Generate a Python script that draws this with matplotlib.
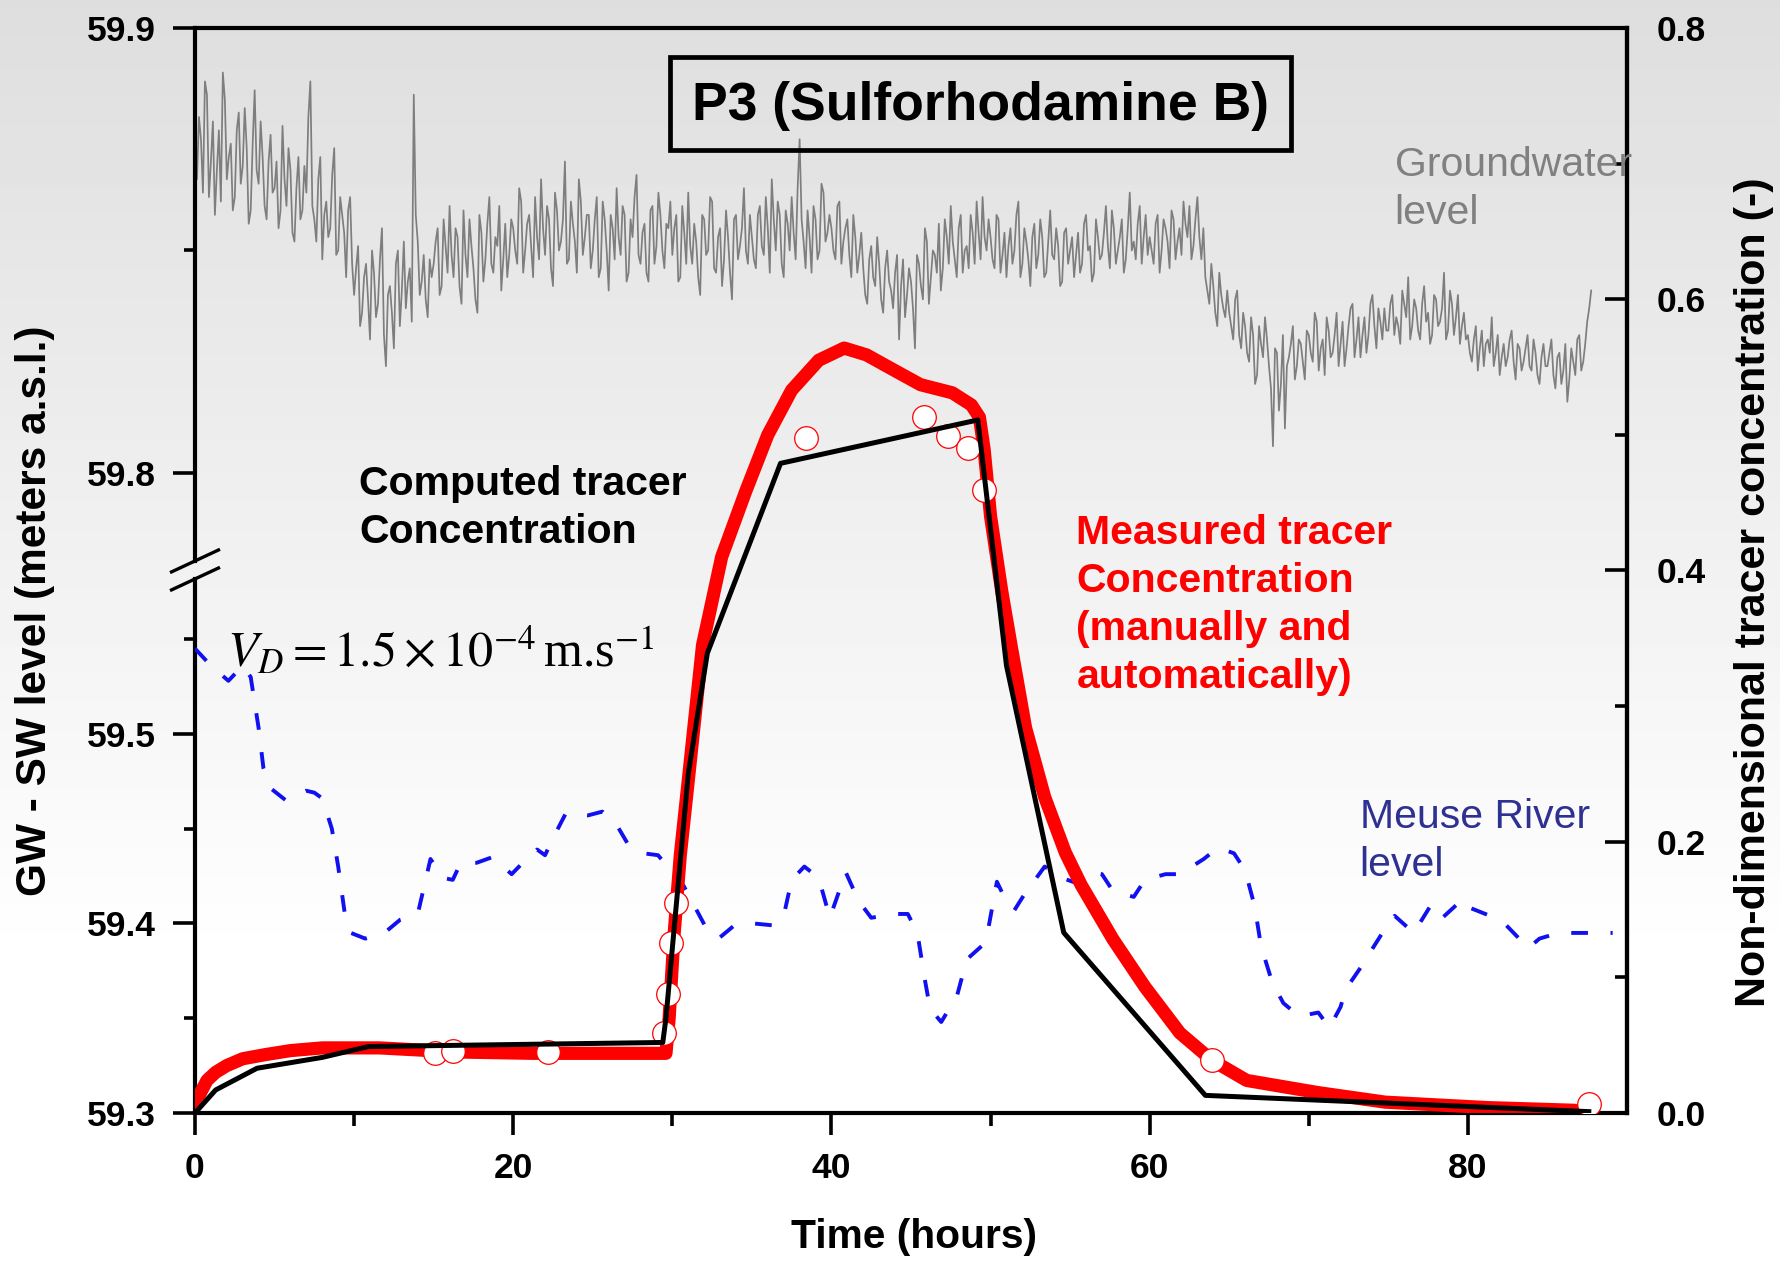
import matplotlib
matplotlib.use("Agg")
import matplotlib.pyplot as plt
import numpy as np
from matplotlib.lines import Line2D
from matplotlib.patches import Rectangle
from matplotlib.ticker import FixedLocator, FuncFormatter

plt.rcParams["font.family"] = ["Liberation Sans", "DejaVu Sans"]
plt.rcParams["mathtext.fontset"] = "stix"

# ---- data (time in hours) ----
# measured tracer concentration (automatic probe), non-dimensional
meas_t = [0.0, 0.75, 1.3, 2.0, 3.0, 4.4, 6.0, 8.0, 11.6, 16.4, 21.2, 29.6,
          29.8, 30.1, 30.5, 31.0, 31.9, 33.1, 34.6, 36.0, 37.5, 39.2, 40.8,
          42.2, 44.2, 45.6, 47.6, 48.8, 49.3, 49.6, 50.0, 50.7, 51.3, 52.2,
          53.4, 54.7, 55.7, 57.7, 59.7, 61.9, 63.9, 66.1, 70.6, 74.8, 81.2,
          86.7]
meas_c = [0.007, 0.024, 0.030, 0.035, 0.040, 0.043, 0.046, 0.048, 0.048, 0.045,
          0.044, 0.044, 0.070, 0.130, 0.190, 0.245, 0.345, 0.410, 0.458, 0.500,
          0.533, 0.555, 0.564, 0.559, 0.546, 0.537, 0.531, 0.522, 0.513, 0.489,
          0.440, 0.385, 0.344, 0.284, 0.233, 0.192, 0.168, 0.128, 0.093, 0.059,
          0.039, 0.024, 0.015, 0.008, 0.004, 0.002]

# manual samples (open circles)
manual_t = [15.1, 16.2, 22.2, 29.5, 29.7, 29.9, 30.2, 38.4, 45.8, 47.3, 48.6,
            49.6, 63.9, 87.6]
manual_c = [0.044, 0.046, 0.045, 0.059, 0.088, 0.125, 0.155, 0.498, 0.513,
            0.499, 0.490, 0.459, 0.039, 0.007]

# computed tracer concentration
comp_t = [0.0, 1.3, 3.9, 8.0, 10.9, 29.4, 29.6, 31.0, 32.2, 36.8, 49.2, 51.0,
          54.6, 63.5, 87.6]
comp_c = [0.0, 0.017, 0.033, 0.041, 0.049, 0.052, 0.070, 0.250, 0.339, 0.479,
          0.511, 0.330, 0.133, 0.013, 0.001]

# Meuse river level (m a.s.l.)
river_t = [0.0, 1.0, 2.1, 3.0, 3.5, 4.0, 4.3, 4.8, 5.7, 7.0, 7.5, 8.0, 8.6,
           9.0, 9.4, 9.8, 10.7, 11.9, 12.9, 14.0, 14.8, 15.6, 16.2, 16.7, 17.7,
           18.7, 19.9, 20.6, 21.5, 22.0, 22.5, 23.3, 24.7, 25.6, 26.5, 27.2,
           28.2, 29.1, 30.7, 31.4, 32.1, 32.9, 33.9, 35.1, 36.3, 37.0, 37.5,
           38.3, 39.2, 39.9, 40.9, 41.7, 42.5, 44.0, 44.8, 45.4, 45.9, 46.2,
           46.9, 47.9, 48.5, 49.7, 50.4, 50.8, 51.5, 52.1, 53.4, 54.5, 55.5,
           56.3, 57.0, 57.7, 59.0, 59.7, 61.0, 61.9, 63.4, 64.3, 65.3, 66.0,
           66.6, 67.0, 67.7, 68.4, 69.4, 70.6, 71.3, 72.0, 72.3, 73.2, 73.8,
           75.0, 75.4, 76.6, 77.7, 78.4, 79.7, 80.2, 81.4, 82.3, 83.8, 84.5,
           85.7, 89.1]
river_lvl = [59.545, 59.536, 59.528, 59.536, 59.530, 59.503, 59.482, 59.471,
             59.465, 59.470, 59.469, 59.466, 59.450, 59.430, 59.406, 59.395,
             59.392, 59.395, 59.402, 59.405, 59.434, 59.424, 59.423, 59.432,
             59.432, 59.435, 59.426, 59.432, 59.439, 59.436, 59.445, 59.458,
             59.457, 59.459, 59.452, 59.442, 59.437, 59.436, 59.420, 59.409,
             59.398, 59.392, 59.399, 59.400, 59.399, 59.404, 59.423, 59.430,
             59.424, 59.403, 59.427, 59.412, 59.403, 59.405, 59.405, 59.395,
             59.369, 59.355, 59.348, 59.362, 59.381, 59.390, 59.422, 59.415,
             59.407, 59.415, 59.430, 59.424, 59.421, 59.427, 59.426, 59.417,
             59.414, 59.423, 59.426, 59.426, 59.434, 59.440, 59.437, 59.428,
             59.409, 59.388, 59.369, 59.358, 59.351, 59.353, 59.345, 59.356,
             59.365, 59.376, 59.384, 59.400, 59.404, 59.395, 59.410, 59.403,
             59.413, 59.408, 59.404, 59.400, 59.387, 59.392, 59.395, 59.395]

# groundwater level in mm above 59.80 m, logged every 0.125 h:
# gw_mm_a = readings at 0, 0.25, 0.5 ... h ; gw_mm_b = readings at 0.125, 0.375 ... h
gw_mm_a = [
    72, 80, 63, 85, 70, 58, 77, 90, 66, 74, 62, 81, 69, 73, 59, 86, 65, 71, 57, 76,
    64, 55, 78, 60, 68, 52, 71, 59, 63, 88, 57, 66, 48, 61, 55, 73, 50, 58, 44, 62,
    40, 51, 36, 47, 30, 45, 38, 55, 24, 42, 28, 50, 41, 37, 46, 85, 52, 43, 39, 48,
    47, 55, 42, 51, 60, 44, 53, 38, 49, 57, 46, 36, 54, 48, 62, 45, 51, 41, 56, 49,
    55, 47, 61, 50, 58, 44, 53, 66, 49, 57, 42, 59, 52, 70, 48, 56, 45, 61, 53, 58,
    50, 62, 46, 57, 41, 55, 64, 49, 58, 45, 53, 67, 47, 56, 43, 60, 51, 58, 46, 55,
    49, 58, 44, 54, 63, 47, 52, 40, 57, 50, 61, 45, 55, 48, 53, 39, 58, 51, 64, 47,
    53, 46, 60, 49, 55, 66, 50, 58, 44, 56, 62, 48, 75, 52, 59, 45, 57, 50, 63, 54,
    55, 48, 61, 52, 57, 44, 53, 49, 46, 38, 51, 42, 47, 36, 50, 41, 45, 30, 48, 40,
    43, 28, 47, 39, 52, 44, 49, 56, 46, 53, 60, 48, 55, 45, 51, 58, 47, 54, 62, 50,
    53, 46, 57, 49, 44, 55, 50, 61, 47, 52, 42, 56, 49, 53, 45, 59, 48, 51, 43, 55,
    50, 44, 54, 47, 58, 51, 45, 53, 49, 60, 46, 55, 50, 57, 48, 63, 52, 56, 47, 58,
    53, 47, 58, 50, 55, 46, 57, 52, 49, 56, 60, 51, 62, 48, 44, 38, 42, 33, 40, 35,
    36, 30, 41, 28, 33, 25, 31, 22, 29, 35, 24, 6, 27, 20, 10, 26, 33, 24, 29, 21,
    31, 25, 34, 28, 22, 32, 27, 36, 29, 24, 33, 38, 30, 26, 35, 31, 40, 28, 34, 37,
    32, 40, 35, 29, 38, 44, 33, 37, 30, 42, 36, 31, 39, 34, 45, 32, 38, 35, 29, 36,
    31, 25, 33, 28, 24, 30, 35, 27, 22, 29, 26, 32, 21, 28, 25, 31, 23, 27, 20, 29,
    24, 30, 19, 27, 23, 16, 28, 22, 31, 25, 34, 41,
]
gw_mm_b = [
    66, 75, 88, 62, 79, 68, 61, 84, 71, 59, 77, 65, 82, 56, 74, 68, 79, 60, 70, 63,
    70, 59, 66, 73, 54, 64, 57, 69, 80, 60, 52, 71, 58, 53, 67, 49, 62, 54, 59, 47,
    46, 33, 44, 39, 50, 35, 48, 31, 40, 36, 47, 33, 52, 43, 34, 58, 40, 49, 35, 44,
    52, 40, 57, 45, 49, 55, 42, 59, 44, 51, 39, 58, 43, 56, 47, 53, 60, 48, 44, 57,
    50, 64, 45, 56, 51, 62, 48, 55, 60, 46, 63, 50, 57, 47, 61, 52, 66, 49, 58, 46,
    57, 44, 61, 50, 58, 48, 53, 60, 43, 57, 62, 49, 54, 45, 59, 47, 63, 50, 56, 61,
    55, 43, 60, 47, 51, 56, 44, 58, 49, 62, 46, 53, 42, 59, 45, 57, 48, 55, 50, 58,
    48, 58, 51, 62, 45, 57, 61, 47, 59, 50, 54, 64, 57, 46, 53, 60, 48, 65, 52, 58,
    50, 60, 47, 55, 49, 58, 45, 54, 40, 48, 44, 53, 39, 46, 43, 37, 49, 42, 35, 46,
    37, 49, 42, 55, 38, 50, 45, 41, 57, 47, 52, 44, 58, 50, 46, 54, 61, 48, 53, 57,
    48, 58, 45, 54, 51, 47, 58, 44, 55, 48, 53, 46, 57, 44, 52, 49, 55, 42, 54, 47,
    53, 49, 45, 56, 50, 43, 57, 48, 54, 51, 59, 47, 53, 45, 55, 50, 48, 60, 53, 49,
    50, 56, 45, 57, 52, 59, 48, 55, 61, 53, 48, 57, 53, 55, 41, 47, 36, 45, 37, 41,
    33, 39, 31, 36, 27, 35, 20, 33, 26, 30, 19, 28, 14, 31, 24, 29, 21, 30, 25, 32,
    27, 36, 23, 30, 35, 26, 31, 24, 34, 28, 37, 26, 35, 31, 27, 38, 33, 37, 30, 32,
    38, 31, 33, 41, 35, 30, 39, 32, 38, 34, 29, 40, 33, 37, 30, 41, 31, 40, 33, 30,
    27, 30, 23, 32, 29, 27, 24, 31, 26, 24, 30, 25, 29, 23, 28, 24, 30, 22, 26, 24,
    27, 22, 26, 20, 29, 21, 25, 30, 23, 29, 37,
]
gw_mm = np.empty(len(gw_mm_a) + len(gw_mm_b))
gw_mm[0::2] = gw_mm_a
gw_mm[1::2] = gw_mm_b
gw_t = np.arange(len(gw_mm)) * 0.125
gw_lvl = 59.80 + gw_mm / 1000.0


# broken left axis: 59.3-59.586 on the lower half, 59.778-59.9 on the upper part
def fwd(v):
    v = np.asarray(v, dtype=float)
    return np.where(v < 59.68, (v - 59.3) * 1.747, 0.5899 + (v - 59.8) * 4.101)


def inv(t):
    t = np.asarray(t, dtype=float)
    return np.where(t < 0.5, 59.3 + t / 1.747, 59.8 + (t - 0.5899) / 4.101)


fig = plt.figure(figsize=(17.8, 12.61), dpi=100)

# grey-to-white slide background
bg = fig.add_axes([0, 0, 1, 1])
bg.axis("off")
shade = np.clip(np.linspace(0.87, 1.04, 300), 0, 1)
bg.imshow(shade[:, None], cmap="gray", vmin=0, vmax=1, aspect="auto",
          extent=[0, 1, 0, 1])

ax = fig.add_axes([0.10955, 0.11737, 0.80449, 0.86043])
ax.set_facecolor("none")
ax.set_yscale("function", functions=(fwd, inv))
ax.set_ylim(59.3, 59.9)
ax.set_xlim(0, 90)

ax.plot(gw_t, gw_lvl, color="#7e7e7e", lw=1.25, zorder=2)
ax.plot(river_t, river_lvl, color="#1010f0", lw=2.8, dashes=(4.3, 5.8), zorder=3)

ax.yaxis.set_major_locator(FixedLocator([59.3, 59.4, 59.5, 59.8, 59.9]))
ax.yaxis.set_minor_locator(FixedLocator([59.35, 59.45, 59.55, 59.85]))
ax.yaxis.set_major_formatter(FuncFormatter(lambda v, p: f"{v:.1f}"))
ax.xaxis.set_major_locator(FixedLocator([0, 20, 40, 60, 80]))
ax.xaxis.set_minor_locator(FixedLocator([10, 30, 50, 70]))

ax.tick_params(axis="y", which="major", direction="out", length=16, width=2.6,
               pad=12, labelsize=25.5)
ax.tick_params(axis="y", which="minor", direction="out", length=8, width=2.6)
ax.tick_params(axis="x", which="major", direction="out", length=16, width=2.6,
               pad=12, labelsize=25.5)
ax.tick_params(axis="x", which="minor", direction="out", length=9, width=2.6)

for side in ["top", "right", "bottom"]:
    ax.spines[side].set_linewidth(3)
ax.spines["left"].set_visible(False)
# left spine with the break marks
for y0, y1 in [(0, 0.4922), (0.5088, 1)]:
    ax.add_line(Line2D([0, 0], [y0, y1], transform=ax.transAxes, color="black",
                       lw=3, clip_on=False, solid_capstyle="projecting"))
for yc in (0.4922, 0.5088):
    ax.add_line(Line2D([-0.0164, 0.0164], [yc - 0.0101, yc + 0.0101],
                       transform=ax.transAxes, color="black", lw=2.4,
                       clip_on=False))

ax2 = ax.twinx()
ax2.set_ylim(0, 0.8)
ax2.set_xlim(0, 90)
ax2.plot(meas_t, meas_c, color="#ff0000", lw=9.5, solid_joinstyle="round",
         solid_capstyle="round", zorder=2)
ax2.plot(manual_t, manual_c, "o", ms=17, mfc="white", mec="#ff0000", mew=0.9,
         zorder=3)
ax2.plot(comp_t, comp_c, color="black", lw=3.6, zorder=4)

ax2.yaxis.set_major_locator(FixedLocator([0, 0.2, 0.4, 0.6, 0.8]))
ax2.yaxis.set_minor_locator(FixedLocator([0.1, 0.3, 0.5, 0.7]))
ax2.yaxis.set_major_formatter(FuncFormatter(lambda v, p: f"{v:.1f}"))
ax2.tick_params(axis="y", which="major", direction="in", length=16, width=2.6,
                pad=21, labelsize=25.5)
ax2.tick_params(axis="y", which="minor", direction="in", length=9, width=2.6)
ax2.spines["right"].set_linewidth(3)
ax2.spines["left"].set_visible(False)

for lab in ax.get_xticklabels() + ax.get_yticklabels() + ax2.get_yticklabels():
    lab.set_fontweight("bold")

# title box
ax.add_patch(Rectangle((0.3317, 0.8876), 0.4337, 0.0857, transform=ax.transAxes,
                       fill=False, ec="black", lw=3.4, zorder=5))
ax.text(0.5486, 0.9285, "P3 (Sulforhodamine B)", transform=ax.transAxes,
        ha="center", va="center", fontsize=38.5, fontweight="bold", zorder=6)

ax2.text(75.4, 0.713, "Groundwater\nlevel", color="#808080", fontsize=29.5,
         ha="left", va="top", linespacing=1.33)
ax2.text(10.3, 0.478, "Computed tracer\nConcentration", color="black",
         fontsize=29.5, fontweight="bold", ha="left", va="top", linespacing=1.33)
ax2.text(55.4, 0.4415,
         "Measured tracer\nConcentration\n(manually and\nautomatically)",
         color="#ff0000", fontsize=29.5, fontweight="bold", ha="left", va="top",
         linespacing=1.33)
ax2.text(73.2, 0.2325, "Meuse River\nlevel", color="#2e3192", fontsize=29.5,
         ha="left", va="top", linespacing=1.33)
ax2.text(2.0, 0.329, r"$V_D = 1.5\times10^{-4}\,$m.s$^{-1}$",
         fontsize=36, fontfamily="Liberation Serif", ha="left", va="baseline")

fig.text(0.0197, 0.516, "GW - SW level (meters a.s.l.)", rotation=90,
         ha="center", va="center", fontsize=30.5, fontweight="bold")
fig.text(0.9854, 0.5306, "Non-dimensional tracer concentration (-)",
         rotation=90, ha="center", va="center", fontsize=31, fontweight="bold")
fig.text(0.5135, 0.019, "Time (hours)", ha="center", va="center",
         fontsize=29.3, fontweight="bold")

fig.savefig("out.png", dpi=100)
